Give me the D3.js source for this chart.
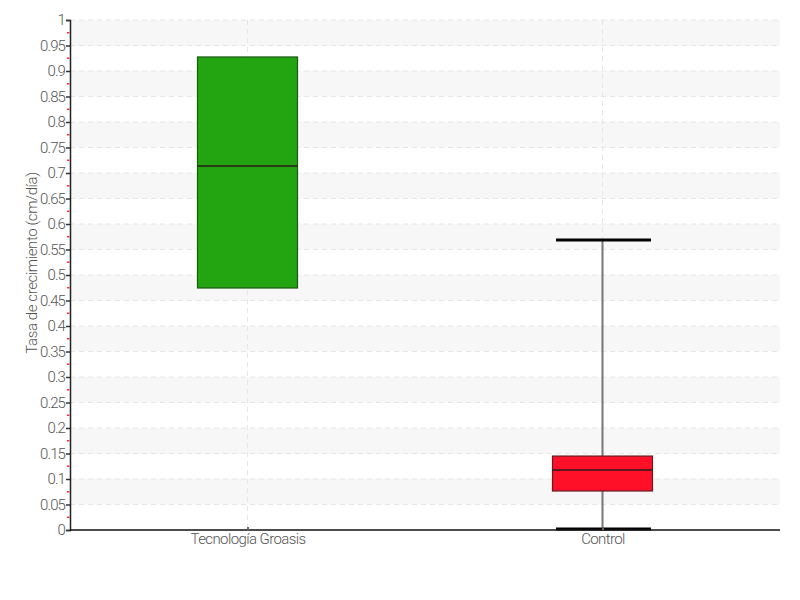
<!DOCTYPE html>
<html><head><meta charset="utf-8">
<script src="https://cdn.jsdelivr.net/npm/d3@7"></script>
<style>body{margin:0;background:#fff}svg{display:block}text{font-family:"Roboto",sans-serif;font-weight:300;letter-spacing:-0.6px}</style>
</head><body><svg id="c" width="800" height="600"></svg>
<script>
const categories = ["Tecnología Groasis", "Control"];
const q1 = [0.4745, 0.0765];
const median = [0.7137, 0.1176];
const q3 = [0.9275, 0.145];
const whiskerLow = [null, 0.002];
const whiskerHigh = [null, 0.5686];
const colors = ["#22a511", "#ff1029"];
const strokes = ["#1b5a12", "#6a1a1f"];
const yTicks = d3.range(0, 1.0001, 0.05).map(v => +v.toFixed(2));
const yMinorTicks = d3.range(0.025, 1, 0.05).map(v => +v.toFixed(3));

const svg = d3.select("#c");
const m = {l: 70, r: 20, t: 20, b: 70};
const W = 800, H = 600;
const x = d3.scalePoint().domain(categories).range([m.l, W - m.r]).padding(0.5);
const y = d3.scaleLinear().domain([0, 1]).range([H - m.b, m.t]);

// bands
const bands = d3.range(0, 10).map(k => [1 - 0.1 * k - 0.05, 1 - 0.1 * k]);
svg.append("g").selectAll("rect").data(bands).join("rect")
  .attr("x", m.l).attr("width", W - m.r - m.l)
  .attr("y", d => y(d[1])).attr("height", d => y(d[0]) - y(d[1]))
  .attr("fill", "#f7f7f7");

// horizontal grid
svg.append("g").selectAll("line").data(yTicks.filter(v => v > 0)).join("line")
  .attr("x1", m.l).attr("x2", W - m.r)
  .attr("y1", d => y(d)).attr("y2", d => y(d))
  .attr("stroke", "#e6e6e6").attr("stroke-dasharray", "5,4");
// vertical grid
svg.append("g").selectAll("line").data(categories).join("line")
  .attr("x1", d => x(d)).attr("x2", d => x(d))
  .attr("y1", m.t).attr("y2", H - m.b)
  .attr("stroke", "#e6e6e6").attr("stroke-dasharray", "5,4");

// boxes
const data = categories.map((c, i) => ({c, i, q1: q1[i], med: median[i], q3: q3[i], lo: whiskerLow[i], hi: whiskerHigh[i]}));
const bw = 100, cw = 95;
const g = svg.append("g");
data.forEach(d => {
  const cx = x(d.c);
  if (d.hi != null) {
    g.append("line").attr("x1", cx).attr("x2", cx).attr("y1", y(d.hi)).attr("y2", y(d.lo))
      .attr("stroke", "#777").attr("stroke-width", 2);
  }
  g.append("rect").attr("x", cx - bw / 2).attr("width", bw)
    .attr("y", y(d.q3)).attr("height", y(d.q1) - y(d.q3))
    .attr("fill", colors[d.i]).attr("stroke", strokes[d.i]).attr("stroke-width", 1.2);
  g.append("line").attr("x1", cx - bw / 2).attr("x2", cx + bw / 2)
    .attr("y1", y(d.med)).attr("y2", y(d.med)).attr("stroke", "#2a1a1a").attr("stroke-width", 1.5);
  if (d.hi != null) {
    [d.hi, d.lo].forEach(v => g.append("line").attr("x1", cx - cw / 2 + 1).attr("x2", cx + cw / 2 + 1)
      .attr("y1", y(v)).attr("y2", y(v)).attr("stroke", "#000").attr("stroke-width", 3));
  }
});

// y axis
const ya = svg.append("g").attr("transform", `translate(${m.l},0)`)
  .call(d3.axisLeft(y).tickValues(yTicks).tickFormat(d3.format("~g")).tickSize(4).tickPadding(1));
ya.select(".domain").attr("stroke", "#222").attr("stroke-width", 1.5);
ya.selectAll(".tick line").attr("stroke", "#333").attr("stroke-width", 1.5);
ya.selectAll("text").attr("fill", "#555").style("font-size", "15px").style("letter-spacing", "-0.9px");
svg.append("g").selectAll("line").data(yMinorTicks).join("line")
  .attr("x1", m.l - 3).attr("x2", m.l - 0.5).attr("y1", d => y(d)).attr("y2", d => y(d))
  .attr("stroke", "#ff3030").attr("stroke-width", 1.5);

// x axis
const xa = svg.append("g").attr("transform", `translate(0,${H - m.b})`)
  .call(d3.axisBottom(x).tickSize(0).tickPadding(3));
xa.select(".domain").attr("stroke", "#111").attr("stroke-width", 1.5).attr("d", `M${m.l},0H${W - m.r}`);
xa.selectAll("text").attr("fill", "#555").style("font-size", "15px");
xa.selectAll(".tick").append("line").attr("y1", 0).attr("y2", -3).attr("stroke", "#666").attr("stroke-width", 2);

// y label
svg.append("text").attr("transform", `translate(37,${(m.t + H - m.b) / 2 - 12}) rotate(-90)`)
  .attr("text-anchor", "middle").attr("fill", "#555").style("font-size", "15px").style("letter-spacing", "-0.4px")
  .text("Tasa de crecimiento (cm/día)");
</script></body></html>
